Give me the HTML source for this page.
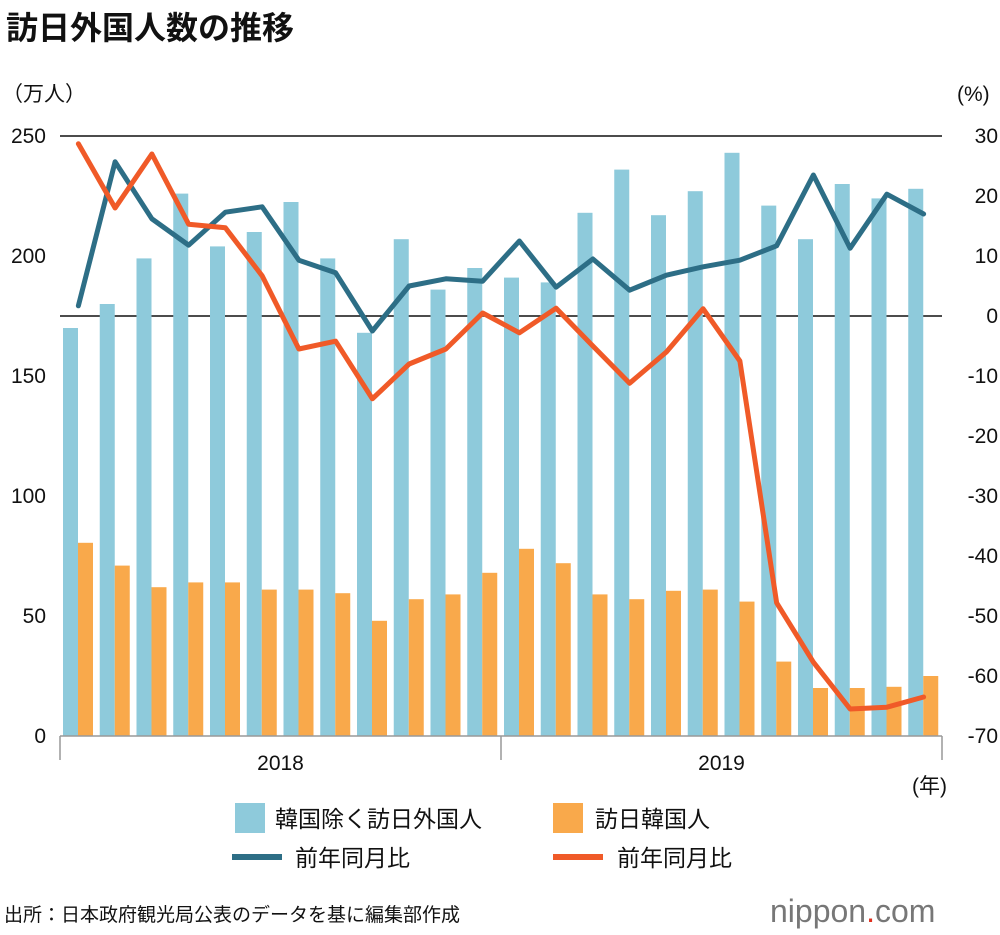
<!DOCTYPE html>
<html><head><meta charset="utf-8">
<style>
body{margin:0;background:#fff;font-family:"Liberation Sans","Noto Sans CJK JP",sans-serif;}
svg text{font-family:"Liberation Sans","Noto Sans CJK JP",sans-serif;}
</style></head>
<body>
<svg id="chart" width="1000" height="930" viewBox="0 0 1000 930" xmlns="http://www.w3.org/2000/svg">
<text x="6" y="39" font-size="32" font-weight="bold" fill="#111">訪日外国人数の推移</text>
<text x="2" y="101" font-size="21" fill="#111">（万人）</text>
<text x="957" y="101" font-size="21" fill="#111">(%)</text>
<g id="grid"></g>
<g id="bars"></g>
<g id="lines"></g>
<g id="axes"></g>
<text x="912" y="793" font-size="21" fill="#111">(年)</text>
<rect x="235" y="803" width="30" height="30" fill="#8ecadb"/>
<text x="275" y="827" font-size="23" fill="#111">韓国除く訪日外国人</text>
<rect x="553" y="803" width="30" height="30" fill="#f9a94b"/>
<text x="595" y="827" font-size="23" fill="#111">訪日韓国人</text>
<line x1="232" y1="857" x2="282" y2="857" stroke="#2d6e86" stroke-width="6"/>
<text x="295" y="866" font-size="23" fill="#111">前年同月比</text>
<line x1="553" y1="857" x2="603" y2="857" stroke="#f05a28" stroke-width="6"/>
<text x="617" y="866" font-size="23" fill="#111">前年同月比</text>
<text x="4" y="921" font-size="19" fill="#111">出所：日本政府観光局公表のデータを基に編集部作成</text>
<text x="770" y="922" font-size="32" fill="#777">nippon<tspan fill="#e0301e">.</tspan>com</text>
</svg>
<script>
const months = ["2018-01","2018-02","2018-03","2018-04","2018-05","2018-06","2018-07","2018-08","2018-09","2018-10","2018-11","2018-12","2019-01","2019-02","2019-03","2019-04","2019-05","2019-06","2019-07","2019-08","2019-09","2019-10","2019-11","2019-12"];
const othersVisitors = [170,180,199,226,204,210,222.5,199,168,207,186,195,191,189,218,236,217,227,243,221,207,230,224,228];
const koreaVisitors = [80.5,71,62,64,64,61,61,59.5,48,57,59,68,78,72,59,57,60.5,61,56,31,20,20,20.5,25];
const othersYoY = [1.7,25.7,16.2,11.8,17.3,18.2,9.3,7.2,-2.5,5,6.2,5.8,12.5,4.8,9.5,4.3,6.8,8.2,9.3,11.7,23.5,11.3,20.3,17];
const koreaYoY = [28.7,18,27,15.3,14.7,6.7,-5.5,-4.2,-13.8,-8,-5.5,0.5,-2.8,1.3,-5,-11.2,-6,1.2,-7.5,-47.8,-57.7,-65.5,-65.2,-63.5];
const leftTicks = [0,50,100,150,200,250];
const rightTicks = [30,20,10,0,-10,-20,-30,-40,-50,-60,-70];
const years = ["2018","2019"];

const NS="http://www.w3.org/2000/svg";
const X0=60,X1=942,YT=136,YB=736;
const slot=(X1-X0)/months.length;
const yL=v=>YB-(v/250)*(YB-YT);
const yR=v=>YB-((v+70)/100)*(YB-YT);
const xC=i=>X0+slot*(i+0.5);
function mk(tag,attrs,parent){const e=document.createElementNS(NS,tag);for(const k in attrs)e.setAttribute(k,attrs[k]);document.getElementById(parent).appendChild(e);return e;}

leftTicks.forEach(t=>{
  const e=mk('text',{x:46,y:yL(t)+7,'font-size':21,'text-anchor':'end',fill:'#111'},'axes');
  e.textContent=t;
  
  
});
rightTicks.forEach(t=>{
  const e=mk('text',{x:998,y:yR(t)+7,'font-size':21,'text-anchor':'end',fill:'#111'},'axes');
  e.textContent=t;
  
  
});
[yL(250),yR(0)].forEach(y=>{
  const l=mk('line',{x1:X0,x2:X1,y1:y,y2:y,stroke:'#111','stroke-width':1.5},'grid');
  
  
});
months.forEach((m,i)=>{
  const s=X0+slot*i;
  const b=mk('rect',{x:s+3,y:yL(othersVisitors[i]),width:15,height:YB-yL(othersVisitors[i]),fill:'#8ecadb'},'bars');
  
  
  const o=mk('rect',{x:s+18,y:yL(koreaVisitors[i]),width:15,height:YB-yL(koreaVisitors[i]),fill:'#f9a94b'},'bars');
  
  
});
const ax=mk('line',{x1:X0,x2:X1,y1:YB,y2:YB,stroke:'#999','stroke-width':1.5},'axes');


[0,12,24].forEach(i=>{
  const x=X0+slot*i;
  const t=mk('line',{x1:x,x2:x,y1:YB,y2:YB+24,stroke:'#999','stroke-width':1.5},'axes');
  
  
});
years.forEach((y,k)=>{
  const e=mk('text',{x:X0+slot*(12*k+6),y:YB+34,'font-size':21,'text-anchor':'middle',fill:'#111'},'axes');
  e.textContent=y;
  
  
});
[[othersYoY,'#2d6e86','line-others-yoy'],[koreaYoY,'#f05a28','line-korea-yoy']].forEach(([d,c,n])=>{
  const p=mk('polyline',{points:d.map((v,i)=>xC(i)+','+yR(v)).join(' '),fill:'none',stroke:c,'stroke-width':5,'stroke-linejoin':'round','stroke-linecap':'round'},'lines');
  
  
});
</script>
</body></html>
